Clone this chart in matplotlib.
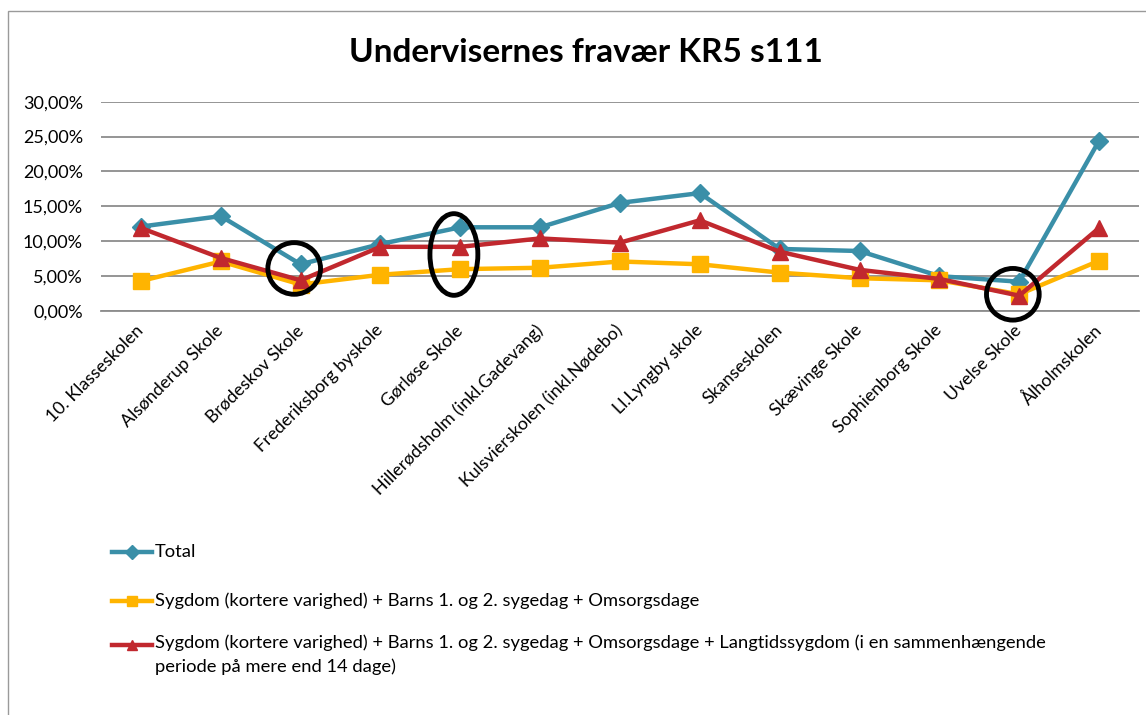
import matplotlib.pyplot as plt
from matplotlib.lines import Line2D
from matplotlib.patches import Ellipse, Rectangle
from matplotlib.ticker import FuncFormatter

plt.rcParams['font.family'] = ['Lato', 'DejaVu Sans']

schools = [
    "10. Klasseskolen", "Alsønderup Skole", "Brødeskov Skole",
    "Frederiksborg byskole", "Gørløse Skole", "Hillerødsholm (inkl.Gadevang)",
    "Kulsvierskolen (inkl.Nødebo)", "Ll.Lyngby skole", "Skanseskolen",
    "Skævinge Skole", "Sophienborg Skole", "Uvelse Skole", "Ålholmskolen",
]
total = [12.1, 13.6, 6.7, 9.6, 12.0, 12.0, 15.5, 16.9, 8.9, 8.6, 5.0, 4.2, 24.4]
kort = [4.3, 7.1, 3.8, 5.2, 6.0, 6.2, 7.1, 6.7, 5.5, 4.7, 4.4, 2.4, 7.2]
lang = [11.9, 7.6, 4.4, 9.2, 9.2, 10.4, 9.8, 13.0, 8.5, 5.9, 4.6, 2.2, 11.9]

labels = [
    "Total",
    "Sygdom (kortere varighed) + Barns 1. og 2. sygedag + Omsorgsdage",
    "Sygdom (kortere varighed) + Barns 1. og 2. sygedag + Omsorgsdage + Langtidssygdom (i en sammenhængende\nperiode på mere end 14 dage)",
]
colors = ['#3A8FA8', '#FFB400', '#C1282E']
markers = ['D', 's', '^']
msizes = [9, 11, 11]

# hand-drawn highlight ellipses: (school index, centre %, width in categories, height in %)
highlights = [(2, 6.1, 0.66, 7.4), (4, 8.1, 0.60, 11.7), (11, 2.4, 0.66, 7.4)]

fig = plt.figure(figsize=(11.46, 7.15), dpi=100)
ax = fig.add_axes([0.0881, 0.565, 0.9058, 0.2928])

x = list(range(len(schools)))
for vals, c, m, ms, lab in zip([total, kort, lang], colors, markers, msizes, labels):
    ax.plot(x, vals, color=c, lw=3.2, marker=m, ms=ms, label=lab)

for i, cy, w, h in highlights:
    ax.add_patch(Ellipse((i - 0.08, cy), w, h, fill=False, ec='black', lw=3.5,
                         zorder=5, clip_on=False))

ax.set_xlim(-0.5, len(schools) - 0.5)
ax.set_ylim(0, 30)
ax.set_yticks(range(0, 31, 5))
ax.yaxis.set_major_formatter(FuncFormatter(lambda v, p: f"{v:.2f}%".replace('.', ',')))
ax.set_xticks(x)
ax.set_xticklabels(schools, rotation=45, ha='right', va='center',
                   rotation_mode='anchor', fontsize=12.8)
ax.tick_params(axis='both', length=0)
ax.tick_params(axis='y', labelsize=13, pad=13)
ax.tick_params(axis='x', pad=12)
ax.grid(axis='y', color='#8c8c8c', lw=1.3)
ax.set_axisbelow(True)
for s in ['top', 'right', 'left']:
    ax.spines[s].set_visible(False)
ax.spines['bottom'].set_color('#8c8c8c')
ax.spines['bottom'].set_linewidth(1.3)

fig.text(0.511, 0.927, "Undervisernes fravær KR5 s111", ha='center', va='center',
         fontsize=24, fontweight='bold')

# legend, drawn by hand so the wrapped entry lines up like the original
leg_y = [552, 601, 645]
for y, c, m, lab in zip(leg_y, colors, markers, labels):
    yf = 1 - y / 715
    fig.add_artist(Line2D([112 / 1146, 152 / 1146], [yf, yf], color=c, lw=3.2,
                          transform=fig.transFigure))
    fig.add_artist(Line2D([132 / 1146], [yf], color=c, marker=m, ms=7,
                          transform=fig.transFigure))
    if '\n' in lab:
        fig.text(155 / 1146, 1 - (y - 11) / 715, lab, ha='left', va='top',
                 fontsize=13.2, linespacing=1.6)
    else:
        fig.text(155 / 1146, yf, lab, ha='left', va='center', fontsize=13.2)

# chart frame
fig.patches.append(Rectangle((0.007, -0.1), 1.5, 1.0846, transform=fig.transFigure,
                             fill=False, ec='#9a9a9a', lw=1))

fig.savefig('out.png', dpi=100)
